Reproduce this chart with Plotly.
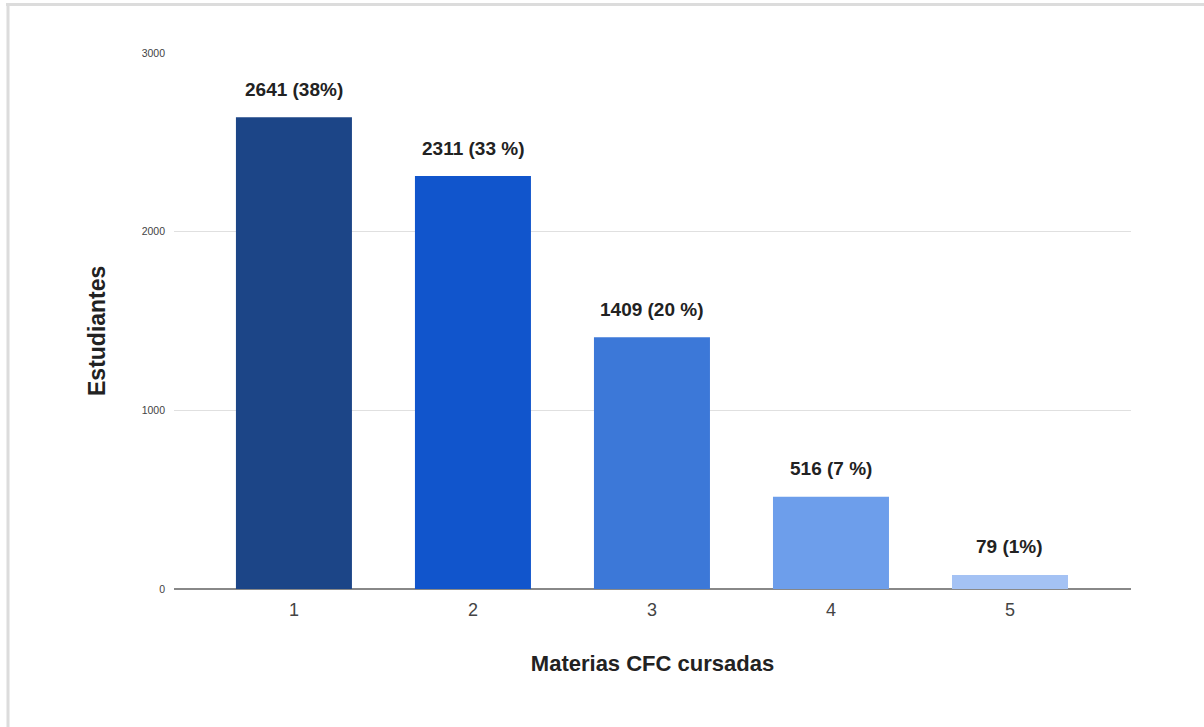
import plotly.graph_objects as go

categories = ["1", "2", "3", "4", "5"]
values = [2641, 2311, 1409, 516, 79]
labels = ["2641 (38%)", "2311 (33 %)", "1409 (20 %)", "516 (7 %)", "79 (1%)"]
colors = ["#1c4587", "#1155cc", "#3c78d8", "#6d9eeb", "#a4c2f4"]
y_ticks = [0, 1000, 2000, 3000]

W, H = 1204, 727
L, R, T, B = 174, 73, 53, 138
pw, ph = W - L - R, H - T - B

FONT = "Arial, Liberation Sans, sans-serif"

xnum = [int(c) for c in categories]

fig = go.Figure()
fig.add_trace(go.Bar(
    x=xnum, y=values, marker=dict(color=colors, line=dict(width=0)),
    width=0.648, showlegend=False, hoverinfo="skip"))

for xv, yv, t in zip(xnum, values, labels):
    fig.add_annotation(x=xv, y=yv, text="<b>%s</b>" % t, showarrow=False,
                       yshift=28, font=dict(family=FONT, size=19, color="#222222"))

def px(p):
    return (p - L) / pw

def py(p):
    return (T + ph - p) / ph

# y axis title
fig.add_annotation(xref="paper", yref="paper", x=px(97), y=py(331), text="<b>Estudiantes</b>",
                   textangle=-90, showarrow=False, xanchor="center", yanchor="middle",
                   font=dict(family=FONT, size=23, color="#222222"))

# outer frame (top and left edges)
fig.add_shape(type="line", xref="paper", yref="paper", x0=px(6), x1=px(1204), y0=py(4.5), y1=py(4.5),
              line=dict(color="#dcdcdc", width=3), layer="below")
fig.add_shape(type="line", xref="paper", yref="paper", x0=px(8), x1=px(8), y0=py(3), y1=py(727),
              line=dict(color="#dcdcdc", width=3), layer="below")

fig.update_layout(
    width=W, height=H,
    margin=dict(l=L, r=R, t=T, b=B, autoexpand=False),
    paper_bgcolor="white", plot_bgcolor="white",
    font=dict(family=FONT, color="#444444"),
    xaxis=dict(
        range=[0.33, 5.676], tickmode="array", tickvals=xnum, ticktext=categories,
        showgrid=False, zeroline=False, showline=False, ticks="",
        tickfont=dict(size=18, color="#444444"), ticklabelstandoff=8,
        title=dict(text="<b>Materias CFC cursadas</b>", font=dict(size=22, color="#222222"), standoff=36),
    ),
    yaxis=dict(
        range=[0, 3000], tickvals=y_ticks, showgrid=True, gridcolor="#e0e0e0", gridwidth=1,
        zeroline=True, zerolinecolor="#888888", zerolinewidth=1.5, showline=False, ticks="",
        tickfont=dict(size=10.5, color="#444444"), ticklabelstandoff=8,
    ),
)

fig.write_html("out.html", config={"displayModeBar": False},
               post_script="document.body.style.margin='0';")
